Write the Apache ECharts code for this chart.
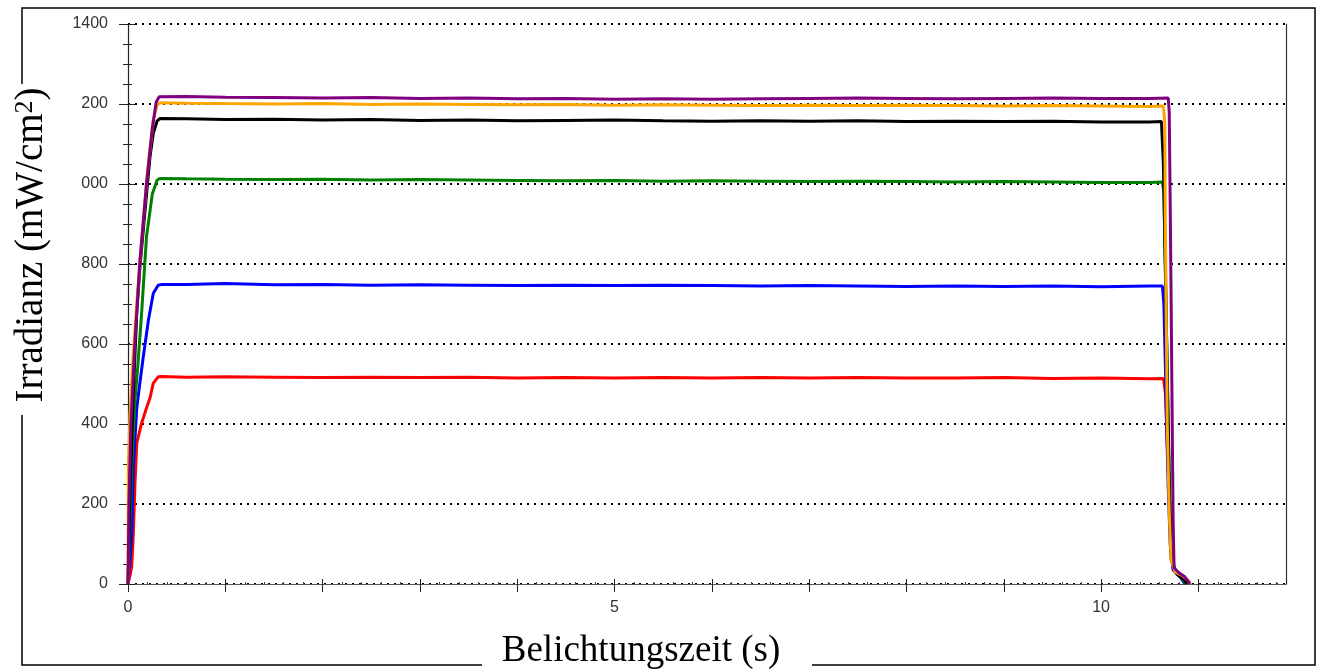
<!DOCTYPE html>
<html>
<head>
<meta charset="utf-8">
<script src="https://cdn.jsdelivr.net/npm/echarts@6/dist/echarts.min.js"></script>
<style>
html,body{margin:0;padding:0;background:#fff;}
#chart{width:1320px;height:670px;}
</style>
</head>
<body>
<div id="chart"></div>
<script>
// ---- data: [time (s), irradiance (mW/cm2)] ----
const xTickLabels = [0, 5, 10];
const yTickStep = 200;

const purple = [[0,0],[0.01,200],[0.03,400],[0.07,600],[0.12,800],[0.19,1000],[0.25,1140],[0.29,1205],[0.32,1218],
  [0.6,1219],[1,1217],[1.5,1216],[2,1215],[2.5,1216],[3,1214],[3.5,1215],[4,1213],[4.5,1214],[5,1212],[5.5,1213],
  [6,1212],[6.5,1213],[7,1214],[7.5,1215],[8,1214],[8.5,1213],[9,1214],[9.5,1215],[10,1214],[10.5,1214],[10.69,1215],
  [10.70,1180],[10.71,950],[10.72,700],[10.73,420],[10.74,160],[10.75,40],[10.8,28],[10.86,18],[10.9,5],[10.91,0]];

const orange = [[0,0],[0.004,300],[0.02,420],[0.05,560],[0.09,700],[0.14,860],[0.2,1030],[0.26,1160],[0.3,1198],[0.33,1203],
  [0.6,1202],[1,1201],[1.5,1200],[2,1201],[2.5,1199],[3,1200],[3.5,1199],[4,1198],[4.5,1199],[5,1197],[5.5,1198],
  [6,1197],[6.5,1196],[7,1197],[7.5,1196],[8,1197],[8.5,1196],[9,1195],[9.5,1196],[10,1195],[10.5,1194],[10.64,1195],
  [10.655,1150],[10.66,900],[10.67,650],[10.68,400],[10.70,180],[10.72,60],[10.76,30],[10.84,20],[10.9,8],[10.92,0]];

const black = [[0,0],[0.02,220],[0.05,450],[0.09,677],[0.123,793],[0.17,920],[0.226,1068],[0.26,1127],[0.3,1158],[0.33,1164],
  [0.6,1163],[1,1161],[1.5,1162],[2,1160],[2.5,1161],[3,1159],[3.5,1160],[4,1158],[4.5,1159],[5,1160],[5.5,1158],
  [6,1157],[6.5,1158],[7,1157],[7.5,1158],[8,1156],[8.5,1157],[9,1156],[9.5,1157],[10,1155],[10.5,1155],[10.62,1156],
  [10.64,1050],[10.66,800],[10.68,520],[10.70,250],[10.72,60],[10.78,25],[10.86,10],[10.88,0]];

const green = [[0,0],[0.02,150],[0.04,300],[0.072,460],[0.10,543],[0.14,677],[0.19,868],[0.25,975],[0.3,1010],[0.33,1014],
  [0.6,1013],[1,1012],[1.5,1011],[2,1012],[2.5,1010],[3,1011],[3.5,1010],[4,1009],[4.5,1008],[5,1009],[5.5,1007],
  [6,1008],[6.5,1007],[7,1006],[7.5,1007],[8,1006],[8.5,1005],[9,1006],[9.5,1005],[10,1004],[10.5,1004],[10.63,1005],
  [10.645,980],[10.66,780],[10.68,520],[10.70,280],[10.72,80],[10.76,30],[10.84,12],[10.87,0]];

const blue = [[0,0],[0.02,60],[0.038,127],[0.055,293],[0.09,440],[0.117,493],[0.157,568],[0.21,660],[0.26,727],[0.31,747],[0.35,749],
  [0.6,749],[1,751],[1.5,748],[2,749],[2.5,747],[3,748],[3.5,747],[4,746],[4.5,747],[5,746],[5.5,747],
  [6,746],[6.5,745],[7,746],[7.5,745],[8,744],[8.5,745],[9,744],[9.5,745],[10,743],[10.5,745],[10.63,745],
  [10.645,700],[10.66,550],[10.675,380],[10.69,240],[10.71,100],[10.74,35],[10.82,15],[10.86,0]];

const red = [[0,0],[0.02,20],[0.038,43],[0.055,127],[0.072,252],[0.09,352],[0.14,402],[0.19,440],[0.226,465],[0.26,502],[0.31,518],[0.35,519],
  [0.6,517],[1,518],[1.5,517],[2,516],[2.5,517],[3,516],[3.5,517],[4,515],[4.5,516],[5,515],[5.5,516],
  [6,515],[6.5,516],[7,515],[7.5,516],[8,515],[8.5,515],[9,516],[9.5,514],[10,515],[10.5,513],[10.64,514],
  [10.66,480],[10.68,350],[10.70,220],[10.72,90],[10.74,40],[10.80,25],[10.86,8],[10.88,0]];

const seriesList = [
  {name:'red', data:red, color:'#ff0000'},
  {name:'blue', data:blue, color:'#0000ff'},
  {name:'green', data:green, color:'#008000'},
  {name:'black', data:black, color:'#000000'},
  {name:'orange', data:orange, color:'#ffa500'},
  {name:'purple', data:purple, color:'#800080'}
];

const chart = echarts.init(document.getElementById('chart'), null, {renderer:'canvas'});
const labelFont = 'Liberation Sans, Arial, sans-serif';
const serif = 'Liberation Serif, Times New Roman, serif';

const option = {
  animation:false,
  backgroundColor:'#fff',
  grid:{left:128, right:34, top:24, bottom:86},
  xAxis:[
    {type:'value', min:0, max:11.9, interval:1,
     axisLine:{show:true, lineStyle:{color:'#555', width:1.2}},
     axisTick:{show:true, length:8, lineStyle:{color:'#222'}},
     minorTick:{show:false},
     splitLine:{show:false},
     axisLabel:{show:true, margin:16, color:'#333', fontSize:16, fontFamily:labelFont, showMaxLabel:false,
       formatter:function(v){ return xTickLabels.indexOf(v) >= 0 ? String(v) : ''; }}
    },
    {type:'value', min:0, max:11.9, interval:1, position:'bottom',
     axisLine:{show:false},
     axisTick:{show:true, inside:true, length:5, lineStyle:{color:'#222'}},
     minorTick:{show:true, splitNumber:5, length:2, lineStyle:{color:'#444'}},
     splitLine:{show:false}, axisLabel:{show:false}
    }
  ],
  yAxis:[
    {type:'value', min:0, max:1400, interval:yTickStep,
     axisLine:{show:true, lineStyle:{color:'#222', width:1.2}},
     axisTick:{show:true, length:9, lineStyle:{color:'#222'}},
     minorTick:{show:true, splitNumber:4, length:5, lineStyle:{color:'#222'}},
     splitLine:{show:true, lineStyle:{color:'#000', width:2, type:[2,5]}},
     axisLabel:{margin:20, color:'#333', fontSize:16, fontFamily:labelFont,
       formatter:function(v){ return String(v); }}
    },
    {type:'value', min:0, max:1400, interval:yTickStep, position:'left',
     axisLine:{show:false},
     axisTick:{show:true, inside:true, length:7, lineStyle:{color:'#222'}},
     minorTick:{show:true, splitNumber:4, length:4, lineStyle:{color:'#222'}},
     splitLine:{show:false}, axisLabel:{show:false}
    },
    {type:'value', min:0, max:1400, position:'right',
     axisLine:{show:true, lineStyle:{color:'#333', width:1.2}},
     axisTick:{show:false}, splitLine:{show:false}, axisLabel:{show:false}
    }
  ],
  series: seriesList.map(function(s){
    return {type:'line', name:s.name, data:s.data, xAxisIndex:0, yAxisIndex:0,
      showSymbol:false, symbol:'none', smooth:false,
      lineStyle:{color:s.color, width:3}, itemStyle:{color:s.color}};
  }),
  graphic:[
    {type:'rect', z:50, silent:true, shape:{x:22, y:8, width:1293, height:657},
     style:{fill:'none', stroke:'#000', lineWidth:1.5}},
    {type:'rect', z:100, silent:true, shape:{x:0, y:84, width:81, height:331}, style:{fill:'#fff'}},
    {type:'text', z:101, silent:true, x:32, y:245, rotation:Math.PI/2,
     style:{text:'{m|Irradianz (mW/cm}{s|2}{m|)}', align:'center', verticalAlign:'middle', fill:'#000',
       rich:{m:{fontSize:39, fontFamily:serif, fill:'#000'},
             s:{fontSize:26, fontFamily:serif, fill:'#000', verticalAlign:'top'}}}},
    {type:'rect', z:100, silent:true, shape:{x:482, y:628, width:330, height:42}, style:{fill:'#fff'}},
    {type:'text', z:101, silent:true, x:641, y:651,
     style:{text:'Belichtungszeit (s)', align:'center', verticalAlign:'middle', fill:'#000',
       font:'37px ' + serif}}
  ]
};
chart.setOption(option);
</script>
</body>
</html>
